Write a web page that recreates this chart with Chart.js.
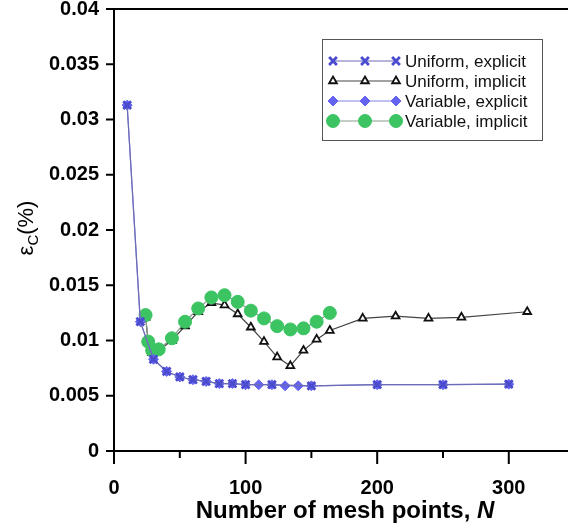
<!DOCTYPE html>
<html>
<head>
<meta charset="utf-8">
<script src="https://cdn.jsdelivr.net/npm/chart.js@4.4.0/dist/chart.umd.min.js"></script>
<style>
  html, body { margin: 0; padding: 0; background: #fff; }
  #wrap { width: 568px; height: 529px; }
</style>
</head>
<body>
<div id="wrap"><canvas id="errChart" width="568" height="529"></canvas></div>
<script>
// mesh size N against relative error (%) for each scheme
const uniExplN   = [10, 20, 30, 40, 50, 60, 70, 80, 90, 100, 120, 150, 200, 250, 300];
const uniExplErr = [0.0313, 0.0117, 0.0083, 0.0072, 0.0067, 0.00645, 0.0063, 0.0061, 0.0061, 0.0060, 0.0060, 0.0059, 0.0060, 0.0060, 0.00605];

const uniImplN   = [24, 26, 29, 34, 44, 54, 64, 74, 84, 94, 104, 114, 124, 134, 144, 154, 164, 189, 214, 239, 264, 314];
const uniImplErr = [0.0121, 0.0098, 0.0089, 0.0091, 0.0100, 0.0113, 0.0126, 0.0134, 0.0132, 0.0124, 0.0112, 0.0099, 0.0085, 0.0077, 0.0091, 0.0101, 0.0109, 0.0120, 0.0122, 0.0120, 0.0121, 0.0126];

const varExplN   = [10, 20, 30, 40, 50, 60, 70, 80, 90, 100, 110, 120, 130, 140, 150, 200, 250, 300];
const varExplErr = [0.0313, 0.0117, 0.0083, 0.0072, 0.0067, 0.00645, 0.0063, 0.0061, 0.0061, 0.0060, 0.0060, 0.0060, 0.0059, 0.0059, 0.0059, 0.0060, 0.0060, 0.00605];

const varImplN   = [24, 26, 29, 34, 44, 54, 64, 74, 84, 94, 104, 114, 124, 134, 144, 154, 164];
const varImplErr = [0.0123, 0.0099, 0.0091, 0.0092, 0.0102, 0.0117, 0.0129, 0.0139, 0.0141, 0.0135, 0.0127, 0.0120, 0.0113, 0.0110, 0.0111, 0.0117, 0.0125];

const seriesNames = ['Uniform, explicit', 'Uniform, implicit', 'Variable, explicit', 'Variable, implicit'];

const xTickValues = [0, 50, 100, 150, 200, 250, 300];
const xTickLabels = ['0', '', '100', '', '200', '', '300'];
const yTickValues = [0, 0.005, 0.01, 0.015, 0.02, 0.025, 0.03, 0.035, 0.04];
const yTickLabels = ['0', '0.005', '0.01', '0.015', '0.02', '0.025', '0.03', '0.035', '0.04'];

const toPoints = (xs, ys) => xs.map((n, i) => ({ x: n, y: ys[i] }));

const FONT = '"Liberation Sans", Arial, sans-serif';

const datasets = [
    {
        label: seriesNames[0],
        data: toPoints(uniExplN, uniExplErr),
        borderColor: '#6c6cb4',
        borderWidth: 1.2,
        pointStyle: 'crossRot',
        pointRadius: 5.5,
        pointBorderWidth: 2.8,
        pointBorderColor: '#4b4bd0',
        pointBackgroundColor: '#4b4bd0',
        order: 0
    },
    {
        label: seriesNames[1],
        data: toPoints(uniImplN, uniImplErr),
        borderColor: '#444',
        borderWidth: 1.2,
        pointStyle: 'triangle',
        pointRadius: 4.5,
        pointBorderWidth: 1.8,
        pointBorderColor: '#111',
        pointBackgroundColor: '#fff',
        order: 3
    },
    {
        label: seriesNames[2],
        data: toPoints(varExplN, varExplErr),
        borderColor: '#8585e6',
        borderWidth: 1.2,
        pointStyle: 'rectRot',
        pointRadius: 5,
        pointBorderWidth: 1,
        pointBorderColor: '#6464f0',
        pointBackgroundColor: '#6464f0',
        order: 1
    },
    {
        label: seriesNames[3],
        data: toPoints(varImplN, varImplErr),
        borderColor: '#8a9a8e',
        borderWidth: 1.2,
        pointStyle: 'circle',
        pointRadius: 6.5,
        pointBorderWidth: 1,
        pointBorderColor: '#3cc463',
        pointBackgroundColor: '#3cc463',
        order: 2
    }
];

// axis lines, top border and tick marks
const frame = {
    id: 'frame',
    beforeDatasetsDraw(chart) {
        const { ctx, chartArea: a, scales: { x, y } } = chart;
        ctx.save();
        ctx.strokeStyle = '#000';
        ctx.lineWidth = 2;
        ctx.beginPath();
        ctx.moveTo(a.left - 8, a.top); ctx.lineTo(a.right, a.top);
        ctx.moveTo(a.left, a.top); ctx.lineTo(a.left, a.bottom);
        ctx.moveTo(a.left - 8, a.bottom); ctx.lineTo(a.right, a.bottom);
        yTickValues.forEach(v => {
            const py = y.getPixelForValue(v);
            ctx.moveTo(a.left - 8, py); ctx.lineTo(a.left, py);
        });
        xTickValues.forEach(v => {
            const px = x.getPixelForValue(v);
            ctx.moveTo(px, a.bottom); ctx.lineTo(px, a.bottom + (v % 100 === 0 ? 13 : 7));
        });
        ctx.stroke();
        ctx.restore();
    },
    afterDraw(chart) {
        const { ctx, chartArea: a } = chart;
        ctx.save();
        ctx.fillStyle = '#000';

        // x title, N in italics
        const main = 'Number of mesh points, ';
        ctx.font = 'bold italic 24px ' + FONT;
        const wN = ctx.measureText('N').width;
        ctx.font = 'bold 24px ' + FONT;
        const wMain = ctx.measureText(main).width;
        const cx = (a.left + a.right) / 2 + 4;
        const x0 = cx - (wMain + wN) / 2;
        ctx.textBaseline = 'alphabetic';
        ctx.fillText(main, x0, 518);
        ctx.font = 'bold italic 24px ' + FONT;
        ctx.fillText('N', x0 + wMain, 518);

        // y title, epsilon with subscript C
        ctx.translate(33, 228);
        ctx.rotate(-Math.PI / 2);
        ctx.font = '22px ' + FONT;
        const wEps = ctx.measureText('ε').width;
        ctx.font = '15px ' + FONT;
        const wC = ctx.measureText('C').width;
        ctx.font = '22px ' + FONT;
        const wP = ctx.measureText('(%)').width;
        let tx = -(wEps + wC + wP) / 2;
        ctx.fillText('ε', tx, 0);
        tx += wEps;
        ctx.font = '15px ' + FONT;
        ctx.fillText('C', tx, 5);
        tx += wC;
        ctx.font = '22px ' + FONT;
        ctx.fillText('(%)', tx, 0);
        ctx.restore();

        // boxed legend with three markers per row
        ctx.save();
        const box = { l: 322, t: 39, r: 542, b: 140 };
        ctx.strokeStyle = '#555';
        ctx.lineWidth = 1;
        ctx.strokeRect(box.l + 0.5, box.t + 0.5, box.r - box.l, box.b - box.t);
        const marks = [333, 365, 396];
        chart.data.datasets.forEach((ds, i) => {
            const ry = 61 + i * 20;
            ctx.strokeStyle = ds.borderColor;
            ctx.lineWidth = ds.borderWidth;
            ctx.beginPath();
            ctx.moveTo(marks[0], ry); ctx.lineTo(marks[2], ry);
            ctx.stroke();
            marks.forEach(mx => {
                ctx.fillStyle = ds.pointBackgroundColor;
                ctx.strokeStyle = ds.pointBorderColor;
                ctx.lineWidth = ds.pointBorderWidth;
                Chart.helpers.drawPoint(ctx, {
                    pointStyle: ds.pointStyle,
                    radius: ds.pointRadius,
                    rotation: 0,
                    borderWidth: ds.pointBorderWidth
                }, mx, ry);
            });
            ctx.fillStyle = '#111';
            ctx.font = '17px ' + FONT;
            ctx.textBaseline = 'middle';
            ctx.fillText(ds.label, 405, ry + 1);
        });
        ctx.restore();
    }
};

new Chart(document.getElementById('errChart'), {
    type: 'scatter',
    data: { datasets: datasets.map(d => Object.assign({ showLine: true, tension: 0 }, d)) },
    options: {
        responsive: false,
        animation: false,
        layout: { autoPadding: false, padding: { top: 9, right: 0, left: 0, bottom: 0 } },
        plugins: { legend: { display: false }, tooltip: { enabled: false } },
        scales: {
            x: {
                type: 'linear',
                min: 0,
                max: 345,
                grid: { display: false, drawTicks: false },
                border: { display: false },
                afterBuildTicks: s => { s.ticks = xTickValues.map(v => ({ value: v })); },
                afterFit: s => { s.height = 78; s.paddingLeft = 0; s.paddingRight = 0; },
                ticks: {
                    padding: 25,
                    maxRotation: 0,
                    autoSkip: false,
                    color: '#000',
                    font: { family: FONT, size: 20, weight: 'bold' },
                    callback: (v, i) => xTickLabels[i]
                }
            },
            y: {
                type: 'linear',
                min: 0,
                max: 0.04,
                grid: { display: false, drawTicks: false },
                border: { display: false },
                afterBuildTicks: s => { s.ticks = yTickValues.map(v => ({ value: v })); },
                afterFit: s => { s.width = 114; s.paddingTop = 0; s.paddingBottom = 0; },
                ticks: {
                    padding: 15,
                    autoSkip: false,
                    color: '#000',
                    font: { family: FONT, size: 20, weight: 'bold' },
                    callback: (v, i) => yTickLabels[i]
                }
            }
        }
    },
    plugins: [frame]
});
</script>
</body>
</html>
